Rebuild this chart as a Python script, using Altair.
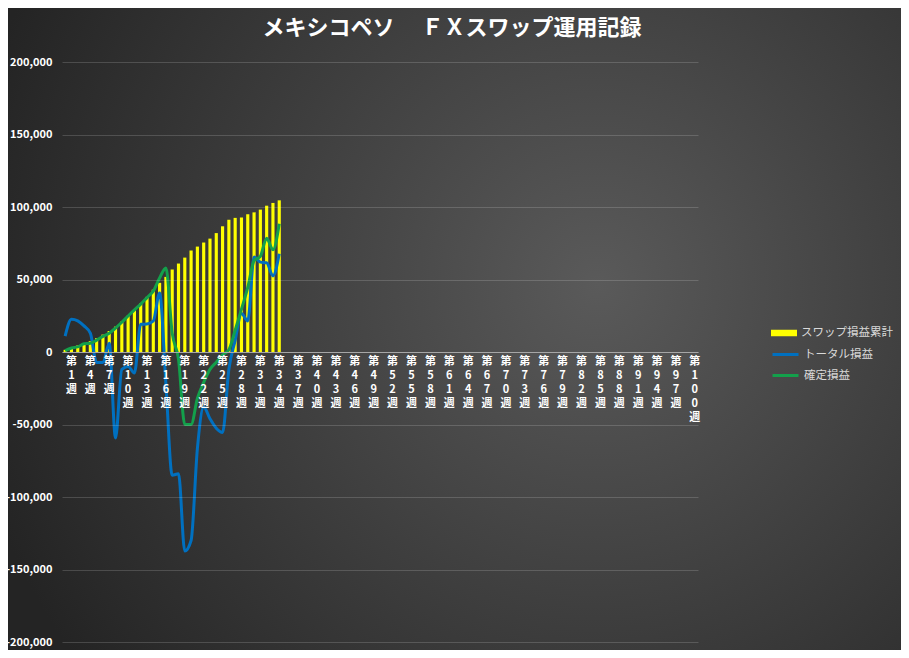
import altair as alt
import pandas as pd

FONT = "Noto Sans CJK JP"

# 横軸は第1週〜第100週（0 は開始時点）
axis_weeks = list(range(101))
weeks = list(range(35))

swap_total = [1500, 3000, 4500, 6000, 7500, 9500, 12000, 14500, 17500, 21000,
              25000, 29000, 33500, 38000, 43000, 47700, 51800, 56900, 61000, 65100,
              70000, 72700, 75500, 78200, 82000, 86700, 91200, 92500, 92700, 95000,
              96300, 98200, 100900, 102800, 104600]
total_pl = [11000, 22600, 21500, 18000, 13000, -7300, -7300, 6000, -59300, -12000,
            -10000, -14500, 19100, 19300, 21400, 40700, -22000, -85000, -84000, -137300,
            -130000, -66600, -38000, -46000, -52600, -55500, -12000, 8000, 26500, 21400,
            65500, 62000, 61500, 52500, 67800]
fixed_pl = [1000, 2800, 3500, 5700, 6000, 8200, 10800, 13000, 16500, 20500,
            24800, 29000, 33000, 37500, 42000, 51000, 58000, 13000, -5000, -50000,
            -50000, -32000, -21000, -12000, -7000, -2000, 1500, 15000, 29500, 44500,
            63000, 66000, 78500, 70500, 88500]

y_ticks = [-200000, -150000, -100000, -50000, 0, 50000, 100000, 150000, 200000]
series_names = ["スワップ損益累計", "トータル損益", "確定損益"]

bar_df = pd.DataFrame({"week": weeks, "series": series_names[0], "value": swap_total})
line_df = pd.concat([
    pd.DataFrame({"week": weeks, "series": series_names[1], "value": total_pl}),
    pd.DataFrame({"week": weeks, "series": series_names[2], "value": fixed_pl}),
])

W, H = 636, 580
PAD = {"left": 54, "top": 54, "right": 203, "bottom": 8}

x_scale = alt.Scale(domain=axis_weeks, paddingInner=0.5, paddingOuter=0.25)
y_scale = alt.Scale(domain=[-200000, 200000], nice=False)

x_axis = alt.Axis(
    title=None,
    labelExpr="datum.value % 3 == 1 ? split('第' + datum.value + '週', '') : ''",
    labelAngle=0,
    labelColor="white",
    labelFont=FONT,
    labelFontSize=11,
    labelFontWeight="bold",
    labelLineHeight=14,
    labelOverlap=False,
    labelFlush=False,
    labelPadding=3,
    ticks=False,
    grid=False,
    domainColor="#a6a6a6",
    domainWidth=1,
    offset=-H / 2,
    zindex=1,
)
y_axis = alt.Axis(
    title=None,
    values=y_ticks,
    labelExpr="datum.value < 0 ? '-' + format(-datum.value, ',') : format(datum.value, ',')",
    labelColor="white",
    labelFont=FONT,
    labelFontSize=11,
    labelFontWeight="bold",
    labelPadding=10,
    ticks=False,
    domain=False,
    gridColor="#ffffff",
    gridOpacity=0.16,
    zindex=1,
)

background = (
    alt.Chart(pd.DataFrame({"bg": [0]}))
    .mark_rect(
        fill=alt.RadialGradient(
            gradient="radial",
            stops=[
                alt.GradientStop(color="#5a5a5a", offset=0),
                alt.GradientStop(color="#242424", offset=1),
            ],
            x1=0.66, y1=0.45, r1=0, x2=0.66, y2=0.45, r2=0.72,
        ),
        strokeWidth=0,
    )
    .encode(
        x=alt.value(-PAD["left"]),
        x2=alt.value(W + PAD["right"]),
        y=alt.value(-PAD["top"]),
        y2=alt.value(H + PAD["bottom"]),
    )
)

bars = (
    alt.Chart(bar_df)
    .mark_bar()
    .encode(
        x=alt.X("week:O", scale=x_scale, axis=x_axis),
        y=alt.Y("value:Q", scale=y_scale, axis=y_axis),
        fill=alt.Fill(
            "series:N",
            scale=alt.Scale(domain=series_names[:1], range=["#ffff00"]),
            legend=alt.Legend(
                title=None,
                orient="none",
                legendX=709,
                legendY=258,
                symbolType="M-1,-0.25H1V0.25H-1Z",
                symbolSize=676,
                symbolStrokeWidth=0,
                labelColor="#d9d9d9",
                labelFont=FONT,
                labelFontSize=11.5,
                labelOffset=4,
                padding=0,
            ),
        ),
    )
)

lines = (
    alt.Chart(line_df)
    .mark_line(strokeWidth=3, interpolate="monotone")
    .encode(
        x=alt.X("week:O", scale=x_scale, axis=x_axis),
        y=alt.Y("value:Q", scale=y_scale, axis=y_axis),
        stroke=alt.Stroke(
            "series:N",
            scale=alt.Scale(domain=series_names[1:], range=["#0070c0", "#13a04b"]),
            legend=alt.Legend(
                title=None,
                orient="none",
                legendX=709,
                legendY=278,
                symbolType="stroke",
                symbolSize=676,
                symbolStrokeWidth=3,
                labelColor="#d9d9d9",
                labelFont=FONT,
                labelFontSize=11.5,
                labelOffset=4,
                rowPadding=0,
                padding=0,
            ),
        ),
    )
)

chart = (
    alt.layer(background, bars, lines)
    .properties(
        width=W,
        height=H,
        autosize=alt.AutoSizeParams(type="none"),
        padding=PAD,
        title=alt.TitleParams(
            text="メキシコペソ　 ＦＸスワップ運用記録",
            font=FONT,
            fontSize=22,
            fontWeight="bold",
            color="white",
            anchor="middle",
            frame="group",
            dx=72,
            offset=-32,
            zindex=1,
        ),
    )
    .configure(background="#2b2b2b")
    .configure_view(stroke=None)
)

chart.save("out.html", embed_options={"renderer": "svg", "actions": False})
